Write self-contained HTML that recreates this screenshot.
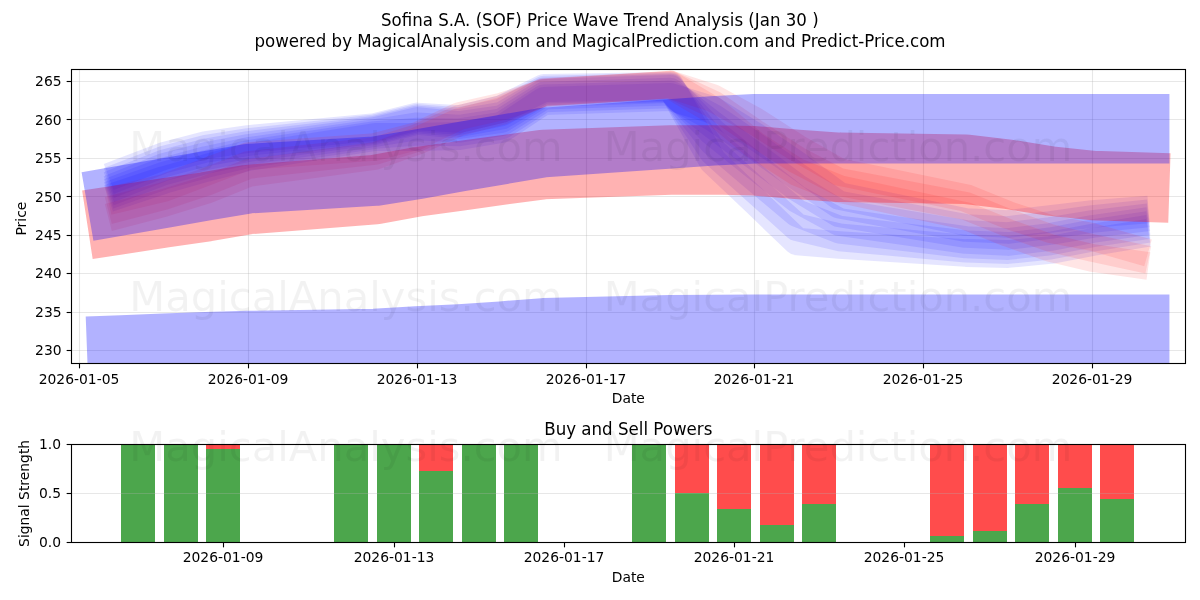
<!DOCTYPE html>
<html lang="en"><head><meta charset="utf-8"><title>Sofina S.A. (SOF) Price Wave Trend Analysis</title>
<style>html,body{margin:0;padding:0;background:#fff;overflow:hidden}svg{display:block}</style>
</head><body>
<svg width="1200" height="600" viewBox="0 0 1200 600" font-family="'DejaVu Sans','Liberation Sans',sans-serif">
<rect x="0" y="0" width="1200" height="600" fill="#fff"/>
<defs><clipPath id="c1"><rect x="71.50" y="69.50" width="1114.00" height="294.00"/></clipPath>
<clipPath id="c2"><rect x="71.50" y="444.50" width="1114.00" height="98.00"/></clipPath></defs>
<g clip-path="url(#c1)">
<line x1="79.50" y1="69.50" x2="79.50" y2="363.50" stroke="#b0b0b0" stroke-opacity="0.3" stroke-width="1.11"/>
<line x1="248.50" y1="69.50" x2="248.50" y2="363.50" stroke="#b0b0b0" stroke-opacity="0.3" stroke-width="1.11"/>
<line x1="417.50" y1="69.50" x2="417.50" y2="363.50" stroke="#b0b0b0" stroke-opacity="0.3" stroke-width="1.11"/>
<line x1="586.50" y1="69.50" x2="586.50" y2="363.50" stroke="#b0b0b0" stroke-opacity="0.3" stroke-width="1.11"/>
<line x1="754.50" y1="69.50" x2="754.50" y2="363.50" stroke="#b0b0b0" stroke-opacity="0.3" stroke-width="1.11"/>
<line x1="923.50" y1="69.50" x2="923.50" y2="363.50" stroke="#b0b0b0" stroke-opacity="0.3" stroke-width="1.11"/>
<line x1="1092.50" y1="69.50" x2="1092.50" y2="363.50" stroke="#b0b0b0" stroke-opacity="0.3" stroke-width="1.11"/>
<line x1="71.50" y1="350.50" x2="1185.50" y2="350.50" stroke="#b0b0b0" stroke-opacity="0.3" stroke-width="1.11"/>
<line x1="71.50" y1="312.50" x2="1185.50" y2="312.50" stroke="#b0b0b0" stroke-opacity="0.3" stroke-width="1.11"/>
<line x1="71.50" y1="273.50" x2="1185.50" y2="273.50" stroke="#b0b0b0" stroke-opacity="0.3" stroke-width="1.11"/>
<line x1="71.50" y1="235.50" x2="1185.50" y2="235.50" stroke="#b0b0b0" stroke-opacity="0.3" stroke-width="1.11"/>
<line x1="71.50" y1="196.50" x2="1185.50" y2="196.50" stroke="#b0b0b0" stroke-opacity="0.3" stroke-width="1.11"/>
<line x1="71.50" y1="158.50" x2="1185.50" y2="158.50" stroke="#b0b0b0" stroke-opacity="0.3" stroke-width="1.11"/>
<line x1="71.50" y1="119.50" x2="1185.50" y2="119.50" stroke="#b0b0b0" stroke-opacity="0.3" stroke-width="1.11"/>
<line x1="71.50" y1="81.50" x2="1185.50" y2="81.50" stroke="#b0b0b0" stroke-opacity="0.3" stroke-width="1.11"/>
<polyline points="121.71,172.00 163.92,156.00 206.12,145.00 248.33,139.00 374.96,127.00 417.17,116.50 459.38,119.00 501.58,109.00 543.79,88.00 670.42,86.00 712.62,161.00 754.83,201.00 797.04,241.50 839.25,245.00 965.88,253.00 1008.08,254.00 1050.29,250.00 1092.50,242.00 1134.71,235.00" fill="none" stroke="#0000ff" stroke-width="27.78" stroke-opacity="0.100" stroke-linecap="square" stroke-linejoin="round"/>
<polyline points="121.71,176.00 163.92,159.67 206.12,148.67 248.33,142.00 374.96,128.33 417.17,118.00 459.38,121.00 501.58,112.33 543.79,89.67 670.42,87.00 712.62,151.33 754.83,189.33 797.04,227.33 839.25,237.33 965.88,248.67 1008.08,250.00 1050.29,245.67 1092.50,237.67 1134.71,231.00" fill="none" stroke="#0000ff" stroke-width="27.78" stroke-opacity="0.100" stroke-linecap="square" stroke-linejoin="round"/>
<polyline points="121.71,180.00 163.92,163.33 206.12,152.33 248.33,145.00 374.96,129.67 417.17,119.50 459.38,123.00 501.58,115.67 543.79,91.33 670.42,88.00 712.62,141.67 754.83,177.67 797.04,213.17 839.25,229.67 965.88,244.33 1008.08,246.00 1050.29,241.33 1092.50,233.33 1134.71,227.00" fill="none" stroke="#0000ff" stroke-width="27.78" stroke-opacity="0.100" stroke-linecap="square" stroke-linejoin="round"/>
<polyline points="121.71,184.00 163.92,167.00 206.12,156.00 248.33,148.00 374.96,131.00 417.17,121.00 459.38,125.00 501.58,119.00 543.79,93.00 670.42,89.00 712.62,132.00 754.83,166.00 797.04,199.00 839.25,222.00 965.88,240.00 1008.08,242.00 1050.29,237.00 1092.50,229.00 1134.71,223.00" fill="none" stroke="#0000ff" stroke-width="27.78" stroke-opacity="0.100" stroke-linecap="square" stroke-linejoin="round"/>
<polyline points="121.71,187.33 163.92,171.33 206.12,160.00 248.33,151.00 374.96,133.00 417.17,126.33 459.38,128.67 501.58,122.33 543.79,95.67 670.42,91.67 712.62,124.67 754.83,156.00 797.04,187.67 839.25,213.33 965.88,234.00 1008.08,236.00 1050.29,231.00 1092.50,224.00 1134.71,218.87" fill="none" stroke="#0000ff" stroke-width="27.78" stroke-opacity="0.100" stroke-linecap="square" stroke-linejoin="round"/>
<polyline points="121.71,190.67 163.92,175.67 206.12,164.00 248.33,154.00 374.96,135.00 417.17,131.67 459.38,132.33 501.58,125.67 543.79,98.33 670.42,94.33 712.62,117.33 754.83,146.00 797.04,176.33 839.25,204.67 965.88,228.00 1008.08,230.00 1050.29,225.00 1092.50,219.00 1134.71,214.73" fill="none" stroke="#0000ff" stroke-width="27.78" stroke-opacity="0.100" stroke-linecap="square" stroke-linejoin="round"/>
<polyline points="121.71,194.00 163.92,180.00 206.12,168.00 248.33,157.00 374.96,137.00 417.17,137.00 459.38,136.00 501.58,129.00 543.79,101.00 670.42,97.00 712.62,110.00 754.83,136.00 797.04,165.00 839.25,196.00 965.88,222.00 1008.08,224.00 1050.29,219.00 1092.50,214.00 1134.71,210.60" fill="none" stroke="#0000ff" stroke-width="27.78" stroke-opacity="0.100" stroke-linecap="square" stroke-linejoin="round"/>
<polyline points="121.71,198.00 163.92,188.00 206.12,172.00 248.33,156.00 374.96,147.00 417.17,136.00 459.38,116.00 501.58,106.50 543.79,93.00 670.42,84.50 712.62,98.00 754.83,121.00 797.04,148.00 839.25,172.00 965.88,198.00 1008.08,215.00 1050.29,229.00 1092.50,237.00 1134.71,249.00" fill="none" stroke="#ff0000" stroke-width="27.78" stroke-opacity="0.100" stroke-linecap="square" stroke-linejoin="round"/>
<polyline points="121.71,207.00 163.92,196.00 206.12,182.00 248.33,165.00 374.96,151.00 417.17,138.00 459.38,119.00 501.58,109.00 543.79,92.50 670.42,84.50 712.62,104.00 754.83,133.00 797.04,160.00 839.25,182.00 965.88,206.00 1008.08,223.00 1050.29,238.00 1092.50,248.00 1134.71,257.00" fill="none" stroke="#ff0000" stroke-width="27.78" stroke-opacity="0.100" stroke-linecap="square" stroke-linejoin="round"/>
<polyline points="121.71,214.00 163.92,203.00 206.12,190.00 248.33,173.00 374.96,156.00 417.17,141.00 459.38,122.00 501.58,111.00 543.79,92.00 670.42,85.00 712.62,110.00 754.83,145.00 797.04,172.00 839.25,189.00 965.88,216.00 1008.08,233.00 1050.29,248.00 1092.50,258.00 1134.71,264.00" fill="none" stroke="#ff0000" stroke-width="27.78" stroke-opacity="0.100" stroke-linecap="square" stroke-linejoin="round"/>
<polyline points="121.71,219.50 163.92,213.00 206.12,206.80 248.33,199.50 374.96,189.70 417.17,181.90 459.38,176.00 501.58,170.10 543.79,164.50 670.42,160.00 712.62,159.90 754.83,160.80 797.04,164.30 839.25,167.30 965.88,169.30 1008.08,174.20 1050.29,181.00 1092.50,185.50 1134.71,186.90" fill="none" stroke="#ff0000" stroke-width="69.44" stroke-opacity="0.300" stroke-linecap="square" stroke-linejoin="round"/>
<polyline points="121.71,349.90 163.92,348.30 206.12,346.80 248.33,345.50 374.96,343.40 417.17,341.00 459.38,338.90 501.58,336.10 543.79,332.80 670.42,329.80 712.62,329.40 754.83,329.20 797.04,329.20 839.25,329.20 965.88,329.20 1008.08,329.20 1050.29,329.20 1092.50,329.20 1134.71,329.20" fill="none" stroke="#0000ff" stroke-width="69.44" stroke-opacity="0.300" stroke-linecap="square" stroke-linejoin="round"/>
<polyline points="121.71,200.50 163.92,193.20 206.12,185.90 248.33,178.70 374.96,171.20 417.17,164.40 459.38,156.90 501.58,149.70 543.79,142.50 670.42,133.80 712.62,130.90 754.83,128.80 797.04,128.80 839.25,128.80 965.88,128.80 1008.08,128.80 1050.29,128.80 1092.50,128.80 1134.71,128.80" fill="none" stroke="#0000ff" stroke-width="69.44" stroke-opacity="0.300" stroke-linecap="square" stroke-linejoin="round"/>
</g>
<rect x="71.50" y="69.50" width="1114.00" height="294.00" fill="none" stroke="#000" stroke-width="1.11"/>
<line x1="79.50" y1="363.50" x2="79.50" y2="368.36" stroke="#000" stroke-width="1.11"/>
<text x="79.00" y="384.00" font-size="13.89" text-anchor="middle">2026-01-05</text>
<line x1="248.50" y1="363.50" x2="248.50" y2="368.36" stroke="#000" stroke-width="1.11"/>
<text x="248.00" y="384.00" font-size="13.89" text-anchor="middle">2026-01-09</text>
<line x1="417.50" y1="363.50" x2="417.50" y2="368.36" stroke="#000" stroke-width="1.11"/>
<text x="417.00" y="384.00" font-size="13.89" text-anchor="middle">2026-01-13</text>
<line x1="586.50" y1="363.50" x2="586.50" y2="368.36" stroke="#000" stroke-width="1.11"/>
<text x="586.00" y="384.00" font-size="13.89" text-anchor="middle">2026-01-17</text>
<line x1="754.50" y1="363.50" x2="754.50" y2="368.36" stroke="#000" stroke-width="1.11"/>
<text x="754.00" y="384.00" font-size="13.89" text-anchor="middle">2026-01-21</text>
<line x1="923.50" y1="363.50" x2="923.50" y2="368.36" stroke="#000" stroke-width="1.11"/>
<text x="923.00" y="384.00" font-size="13.89" text-anchor="middle">2026-01-25</text>
<line x1="1092.50" y1="363.50" x2="1092.50" y2="368.36" stroke="#000" stroke-width="1.11"/>
<text x="1092.00" y="384.00" font-size="13.89" text-anchor="middle">2026-01-29</text>
<line x1="66.64" y1="350.50" x2="71.50" y2="350.50" stroke="#000" stroke-width="1.11"/>
<text x="61.60" y="355.30" font-size="13.89" text-anchor="end">230</text>
<line x1="66.64" y1="312.50" x2="71.50" y2="312.50" stroke="#000" stroke-width="1.11"/>
<text x="61.60" y="316.87" font-size="13.89" text-anchor="end">235</text>
<line x1="66.64" y1="273.50" x2="71.50" y2="273.50" stroke="#000" stroke-width="1.11"/>
<text x="61.60" y="278.44" font-size="13.89" text-anchor="end">240</text>
<line x1="66.64" y1="235.50" x2="71.50" y2="235.50" stroke="#000" stroke-width="1.11"/>
<text x="61.60" y="240.01" font-size="13.89" text-anchor="end">245</text>
<line x1="66.64" y1="196.50" x2="71.50" y2="196.50" stroke="#000" stroke-width="1.11"/>
<text x="61.60" y="201.59" font-size="13.89" text-anchor="end">250</text>
<line x1="66.64" y1="158.50" x2="71.50" y2="158.50" stroke="#000" stroke-width="1.11"/>
<text x="61.60" y="163.16" font-size="13.89" text-anchor="end">255</text>
<line x1="66.64" y1="119.50" x2="71.50" y2="119.50" stroke="#000" stroke-width="1.11"/>
<text x="61.60" y="124.73" font-size="13.89" text-anchor="end">260</text>
<line x1="66.64" y1="81.50" x2="71.50" y2="81.50" stroke="#000" stroke-width="1.11"/>
<text x="61.60" y="86.30" font-size="13.89" text-anchor="end">265</text>
<text x="628.3" y="402.8" font-size="13.89" text-anchor="middle">Date</text>
<text transform="translate(25.9,218.6) rotate(-90)" font-size="13.89" text-anchor="middle">Price</text>
<text transform="translate(599.8,25.8) scale(0.9975,1.07)" font-size="16.67" text-anchor="middle">Sofina S.A. (SOF) Price Wave Trend Analysis (Jan 30 )</text>
<text transform="translate(600,46.6) scale(0.998,1.07)" font-size="16.67" text-anchor="middle">powered by MagicalAnalysis.com and MagicalPrediction.com and Predict-Price.com</text>
<g clip-path="url(#c2)">
<rect x="121.00" y="444.00" width="34.00" height="98.50" fill="#008000" fill-opacity="0.7"/>
<rect x="164.00" y="444.00" width="34.00" height="98.50" fill="#008000" fill-opacity="0.7"/>
<rect x="206.00" y="449.00" width="34.00" height="93.50" fill="#008000" fill-opacity="0.7"/>
<rect x="206.00" y="444.50" width="34.00" height="4.50" fill="#ff0000" fill-opacity="0.7"/>
<rect x="334.00" y="444.00" width="34.00" height="98.50" fill="#008000" fill-opacity="0.7"/>
<rect x="377.00" y="444.00" width="34.00" height="98.50" fill="#008000" fill-opacity="0.7"/>
<rect x="419.00" y="471.00" width="34.00" height="71.50" fill="#008000" fill-opacity="0.7"/>
<rect x="419.00" y="444.50" width="34.00" height="26.50" fill="#ff0000" fill-opacity="0.7"/>
<rect x="462.00" y="444.00" width="34.00" height="98.50" fill="#008000" fill-opacity="0.7"/>
<rect x="504.00" y="444.00" width="34.00" height="98.50" fill="#008000" fill-opacity="0.7"/>
<rect x="632.00" y="444.00" width="34.00" height="98.50" fill="#008000" fill-opacity="0.7"/>
<rect x="675.00" y="493.00" width="34.00" height="49.50" fill="#008000" fill-opacity="0.7"/>
<rect x="675.00" y="444.50" width="34.00" height="48.50" fill="#ff0000" fill-opacity="0.7"/>
<rect x="717.00" y="509.00" width="34.00" height="33.50" fill="#008000" fill-opacity="0.7"/>
<rect x="717.00" y="444.50" width="34.00" height="64.50" fill="#ff0000" fill-opacity="0.7"/>
<rect x="760.00" y="525.00" width="34.00" height="17.50" fill="#008000" fill-opacity="0.7"/>
<rect x="760.00" y="444.50" width="34.00" height="80.50" fill="#ff0000" fill-opacity="0.7"/>
<rect x="802.00" y="504.00" width="34.00" height="38.50" fill="#008000" fill-opacity="0.7"/>
<rect x="802.00" y="444.50" width="34.00" height="59.50" fill="#ff0000" fill-opacity="0.7"/>
<rect x="930.00" y="536.00" width="34.00" height="6.50" fill="#008000" fill-opacity="0.7"/>
<rect x="930.00" y="444.50" width="34.00" height="91.50" fill="#ff0000" fill-opacity="0.7"/>
<rect x="973.00" y="531.00" width="34.00" height="11.50" fill="#008000" fill-opacity="0.7"/>
<rect x="973.00" y="444.50" width="34.00" height="86.50" fill="#ff0000" fill-opacity="0.7"/>
<rect x="1015.00" y="504.00" width="34.00" height="38.50" fill="#008000" fill-opacity="0.7"/>
<rect x="1015.00" y="444.50" width="34.00" height="59.50" fill="#ff0000" fill-opacity="0.7"/>
<rect x="1058.00" y="488.00" width="34.00" height="54.50" fill="#008000" fill-opacity="0.7"/>
<rect x="1058.00" y="444.50" width="34.00" height="43.50" fill="#ff0000" fill-opacity="0.7"/>
<rect x="1100.00" y="499.00" width="34.00" height="43.50" fill="#008000" fill-opacity="0.7"/>
<rect x="1100.00" y="444.50" width="34.00" height="54.50" fill="#ff0000" fill-opacity="0.7"/>
<line x1="71.50" y1="493.50" x2="1185.50" y2="493.50" stroke="#b0b0b0" stroke-opacity="0.3" stroke-width="1.11"/>
</g>
<rect x="71.50" y="444.50" width="1114.00" height="98.00" fill="none" stroke="#000" stroke-width="1.11"/>
<line x1="223.50" y1="542.50" x2="223.50" y2="547.36" stroke="#000" stroke-width="1.11"/>
<text x="223.00" y="561.90" font-size="13.89" text-anchor="middle">2026-01-09</text>
<line x1="394.50" y1="542.50" x2="394.50" y2="547.36" stroke="#000" stroke-width="1.11"/>
<text x="394.00" y="561.90" font-size="13.89" text-anchor="middle">2026-01-13</text>
<line x1="564.50" y1="542.50" x2="564.50" y2="547.36" stroke="#000" stroke-width="1.11"/>
<text x="564.00" y="561.90" font-size="13.89" text-anchor="middle">2026-01-17</text>
<line x1="734.50" y1="542.50" x2="734.50" y2="547.36" stroke="#000" stroke-width="1.11"/>
<text x="734.00" y="561.90" font-size="13.89" text-anchor="middle">2026-01-21</text>
<line x1="904.50" y1="542.50" x2="904.50" y2="547.36" stroke="#000" stroke-width="1.11"/>
<text x="904.00" y="561.90" font-size="13.89" text-anchor="middle">2026-01-25</text>
<line x1="1075.50" y1="542.50" x2="1075.50" y2="547.36" stroke="#000" stroke-width="1.11"/>
<text x="1075.00" y="561.90" font-size="13.89" text-anchor="middle">2026-01-29</text>
<line x1="66.64" y1="542.50" x2="71.50" y2="542.50" stroke="#000" stroke-width="1.11"/>
<text x="61.10" y="547.00" font-size="13.89" text-anchor="end">0.0</text>
<line x1="66.64" y1="493.50" x2="71.50" y2="493.50" stroke="#000" stroke-width="1.11"/>
<text x="61.10" y="498.00" font-size="13.89" text-anchor="end">0.5</text>
<line x1="66.64" y1="444.50" x2="71.50" y2="444.50" stroke="#000" stroke-width="1.11"/>
<text x="61.10" y="449.00" font-size="13.89" text-anchor="end">1.0</text>
<text x="628.3" y="581.9" font-size="13.89" text-anchor="middle">Date</text>
<text transform="translate(29.1,493.4) rotate(-90)" font-size="13.89" text-anchor="middle">Signal Strength</text>
<text transform="translate(628.3,434.7) scale(1,1.05)" font-size="16.67" text-anchor="middle">Buy and Sell Powers</text>
<g>
<text x="346.00" y="161.30" font-size="41.67" text-anchor="middle" fill="#000000" fill-opacity="0.050">MagicalAnalysis.com</text>
<text x="838.00" y="161.30" font-size="41.67" text-anchor="middle" fill="#000000" fill-opacity="0.050">MagicalPrediction.com</text>
</g>
<g>
<text x="346.00" y="311.30" font-size="41.67" text-anchor="middle" fill="#000000" fill-opacity="0.050">MagicalAnalysis.com</text>
<text x="838.00" y="311.30" font-size="41.67" text-anchor="middle" fill="#000000" fill-opacity="0.050">MagicalPrediction.com</text>
</g>
<g>
<text x="346.00" y="461.30" font-size="41.67" text-anchor="middle" fill="#000000" fill-opacity="0.050">MagicalAnalysis.com</text>
<text x="838.00" y="461.30" font-size="41.67" text-anchor="middle" fill="#000000" fill-opacity="0.050">MagicalPrediction.com</text>
</g>
</svg>
</body></html>
